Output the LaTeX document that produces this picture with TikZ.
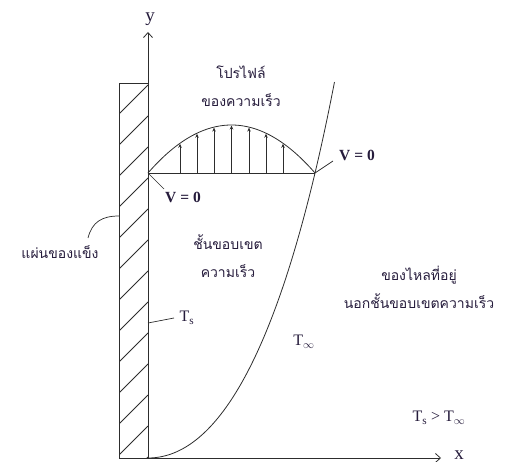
\documentclass[tikz,border=0pt]{standalone}
\usepackage{fontspec}
\setmainfont{Liberation Serif}
\newfontfamily\thai[Script=Thai]{Loma}
\usetikzlibrary{arrows.meta}
\definecolor{ink}{RGB}{38,28,60}
\definecolor{ln}{RGB}{45,45,45}
\begin{document}
\begin{tikzpicture}[x=1pt,y=-1pt,line width=0.8pt,draw=ln,
  lbl/.style={text=ink,font=\fontsize{16}{17}\selectfont,inner sep=0pt},
  vlbl/.style={text=ink,font=\bfseries\fontsize{15.5}{16}\selectfont,inner sep=0pt},
  thl/.style={text=ink,font=\thai\fontsize{14}{28}\selectfont,inner sep=0pt,align=center},
  axis/.style={draw=ln,-{Straight Barb[length=5pt,width=9pt]}},
  varrow/.style={draw=ln,-{Stealth[length=4pt,width=3.5pt]}},
  leader/.style={draw=ln,line width=0.7pt}]
\useasboundingbox (0,0) rectangle (508,462);
% wall
\draw (119,83) rectangle (148,458);
\begin{scope}
  \clip (119,83) rectangle (148,458);
  \foreach \k in {0,...,12} \draw (119,{85+31*\k+29}) -- (148,{85+31*\k});
\end{scope}
% axes
\coordinate (O) at (148,458);
\coordinate (yend) at (148,32);
\coordinate (xstart) at (119,458);
\coordinate (xend) at (441,458);
\draw[axis] (O) -- (yend);
\draw[axis] (xstart) -- (xend);
\node[lbl,font=\fontsize{19}{20}\selectfont] (ylab) at (150,19) {y};
\node[lbl,font=\fontsize{19}{20}\selectfont] (xlab) at (459,455) {x};
% boundary layer edge (parabola-like)
\draw[domain=0:19.39,samples=80,variable=\t] plot ({148+11.75*\t-0.11*\t*\t},{458-\t*\t});
% velocity profile
\coordinate (pL) at (148,173);
\coordinate (pR) at (315,173);
\draw (pL) -- (pR);
\draw[domain=148:315,samples=60] plot (\x,{125+48*((\x-231.5)/83.5)*((\x-231.5)/83.5)});
\foreach \xx in {180,197,214,231.5,249,266,283}
  \draw[varrow] (\xx,173) -- (\xx,{125.5+48*((\xx-231.5)/83.5)*((\xx-231.5)/83.5)});
% labels
\node[thl] (prof) at (241,86) {โปรไฟล์\\ของความเร็ว};
\node[vlbl] (v0a) at (183,197) {V = 0};
\coordinate (v0aend) at (164,189);
\draw[leader] (pL) -- (v0aend);
\node[vlbl] (v0b) at (357,155) {V = 0};
\coordinate (v0bend) at (333,161);
\draw[leader] (pR) -- (v0bend);
\node[thl] (bl) at (228,256) {ชั้นขอบเขต\\ความเร็ว};
\node[thl] (out) at (419,287) {ของไหลที่อยู่\\นอกชั้นขอบเขตความเร็ว};
\node[thl] (wall) at (60,252) {แผ่นของแข็ง};
\coordinate (wallL) at (88,238);
\coordinate (wallR) at (119,216);
\draw[leader] (wallL) .. controls (92,222) and (102,216) .. (wallR);
\node[lbl] (ts) at (187,318) {T\textsubscript{s}};
\coordinate (tsw) at (148,323);
\coordinate (tsl) at (174,318);
\draw[leader] (tsw) -- (tsl);
\node[lbl] (tinf) at (304,342) {T\textsubscript{$\infty$}};
\node[lbl] (cmp) at (439,418) {T\textsubscript{s} > T\textsubscript{$\infty$}};
\end{tikzpicture}
\end{document}
